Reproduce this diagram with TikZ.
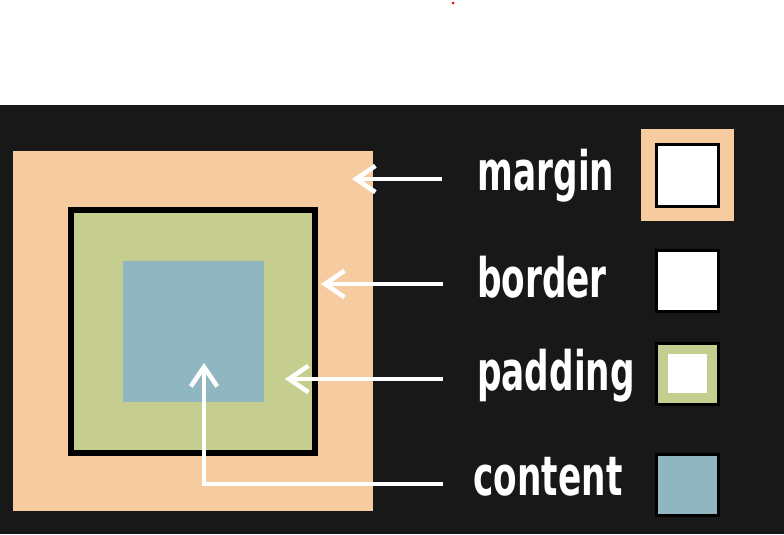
\documentclass[tikz,border=0pt]{standalone}
\usepackage{fontspec}
\newfontfamily\boxfont[FakeStretch=0.63]{DejaVu Sans}
\usetikzlibrary{arrows.meta}
\definecolor{bgdark}{HTML}{181818}
\definecolor{marginpeach}{HTML}{F7CBA0}
\definecolor{paddinggreen}{HTML}{C5CE8F}
\definecolor{contentblue}{HTML}{8FB6C1}

\begin{document}
\begin{tikzpicture}[x=0.02cm, y=-0.02cm,
  pointer/.style={white, line width=2.4pt, -{Straight Barb[length=11pt,width=15pt,line width=2.6pt]}},
  boxlabel/.style={anchor=base, inner sep=0pt, text=white, font=\boxfont\bfseries\fontsize{31}{31}\selectfont},
  swatch/.style={draw=black, line width=1.7pt}]
\useasboundingbox (0,0) rectangle (784,534);
\fill[bgdark] (0,105) rectangle (784,534);
\fill[red] (453,3) circle (1.5);
\fill[marginpeach] (13,151) rectangle (373,511);
\fill[black] (68,207) rectangle (318,456);
\fill[paddinggreen] (74,213) rectangle (312,450);
\fill[contentblue] (123,261) rectangle (264,402);
\fill[marginpeach] (641,129) rectangle (734,221);
\draw[swatch, fill=white] (656.5,144.5) rectangle (718.5,206.5);
\draw[swatch, fill=white] (656.5,250.5) rectangle (718.5,311.5);
\draw[swatch, fill=paddinggreen] (656.5,343.5) rectangle (718.5,404.5);
\fill[white] (668,354) rectangle (707,393);
\draw[swatch, fill=contentblue] (656.5,454.5) rectangle (718.5,515.5);
\node[boxlabel] (margin) at (546,190) {margin};
\node[boxlabel] (border) at (542,297) {border};
\node[boxlabel] (padding) at (556,390) {padding};
\node[boxlabel] (content) at (548,495) {content};
\coordinate (margin tail) at (442,179);
\coordinate (margin tip) at (352,179);
\coordinate (border tail) at (443,284);
\coordinate (border tip) at (321,284);
\coordinate (padding tail) at (443,379);
\coordinate (padding tip) at (285,379);
\coordinate (content tail) at (443,484);
\coordinate (content tip) at (204,363);
\draw[pointer] (margin tail) -- (margin tip);
\draw[pointer] (border tail) -- (border tip);
\draw[pointer] (padding tail) -- (padding tip);
\draw[pointer] (content tail) -| (content tip);
\end{tikzpicture}
\end{document}
